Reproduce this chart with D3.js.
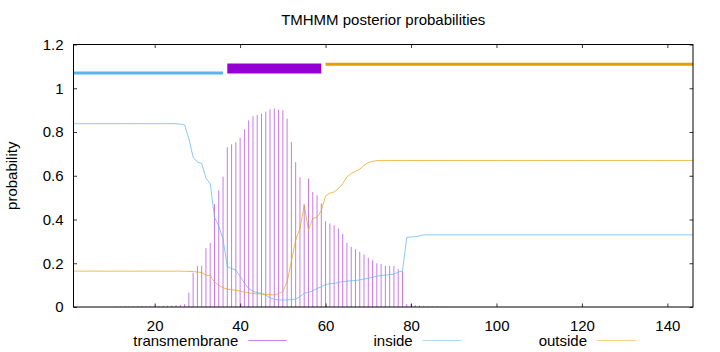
<!DOCTYPE html>
<html>
<head>
<meta charset="utf-8">
<script src="https://cdn.jsdelivr.net/npm/d3@7"></script>
<style>
  body { margin: 0; background: #fff; }
  svg { display: block; font-family: 'Liberation Sans', Arial, sans-serif; }
</style>
</head>
<body>
<div id="graph"></div>
<script>
// posterior probabilities per residue (1..146)
const tmProb = [
  0, 0, 0, 0, 0, 0, 0, 0, 0, 0,
  0.002, 0.002, 0.003, 0.003, 0.003, 0.004, 0.004, 0.004, 0.005, 0.005,
  0.005, 0.006, 0.006, 0.007, 0.008, 0.01, 0.013, 0.065, 0.156, 0.187,
  0.188, 0.269, 0.293, 0.47, 0.534, 0.596, 0.731, 0.744, 0.753, 0.774,
  0.812, 0.853, 0.872, 0.878, 0.884, 0.893, 0.904, 0.908, 0.902, 0.899,
  0.861, 0.754, 0.662, 0.593, 0.47, 0.587, 0.526, 0.511, 0.474, 0.392,
  0.382, 0.374, 0.359, 0.333, 0.293, 0.275, 0.264, 0.252, 0.24, 0.225,
  0.213, 0.2, 0.196, 0.188, 0.188, 0.188, 0.173, 0.164, 0.013, 0.014,
  0.009, 0.007, 0.004, 0.003, 0.002, 0.002, 0.001, 0.001, 0.001, 0,
  0, 0, 0, 0, 0, 0, 0, 0, 0, 0,
  0, 0, 0, 0, 0, 0, 0, 0, 0, 0,
  0, 0, 0, 0, 0, 0, 0, 0, 0, 0,
  0, 0, 0, 0, 0, 0, 0, 0, 0, 0,
  0, 0, 0, 0, 0, 0, 0, 0, 0, 0,
  0, 0, 0, 0, 0, 0,
]

const insideProb = [
  0.838, 0.838, 0.838, 0.838, 0.838, 0.838, 0.838, 0.838, 0.838, 0.838,
  0.838, 0.838, 0.838, 0.838, 0.838, 0.838, 0.838, 0.838, 0.838, 0.838,
  0.838, 0.838, 0.838, 0.838, 0.838, 0.836, 0.832, 0.77, 0.685, 0.663,
  0.656, 0.59, 0.564, 0.41, 0.37, 0.31, 0.184, 0.176, 0.169, 0.14,
  0.11, 0.085, 0.072, 0.066, 0.062, 0.054, 0.042, 0.035, 0.033, 0.032,
  0.032, 0.034, 0.036, 0.047, 0.063, 0.067, 0.074, 0.085, 0.092, 0.103,
  0.106, 0.108, 0.112, 0.116, 0.118, 0.12, 0.121, 0.124, 0.128, 0.131,
  0.136, 0.141, 0.144, 0.146, 0.148, 0.15, 0.16, 0.165, 0.318, 0.32,
  0.322, 0.325, 0.33, 0.33, 0.33, 0.33, 0.33, 0.33, 0.33, 0.33,
  0.33, 0.33, 0.33, 0.33, 0.33, 0.33, 0.33, 0.33, 0.33, 0.33,
  0.33, 0.33, 0.33, 0.33, 0.33, 0.33, 0.33, 0.33, 0.33, 0.33,
  0.33, 0.33, 0.33, 0.33, 0.33, 0.33, 0.33, 0.33, 0.33, 0.33,
  0.33, 0.33, 0.33, 0.33, 0.33, 0.33, 0.33, 0.33, 0.33, 0.33,
  0.33, 0.33, 0.33, 0.33, 0.33, 0.33, 0.33, 0.33, 0.33, 0.33,
  0.33, 0.33, 0.33, 0.33, 0.33, 0.33,
]

const outsideProb = [
  0.164, 0.164, 0.164, 0.164, 0.164, 0.164, 0.164, 0.164, 0.164, 0.164,
  0.164, 0.164, 0.164, 0.164, 0.164, 0.164, 0.164, 0.164, 0.164, 0.164,
  0.164, 0.164, 0.164, 0.164, 0.164, 0.164, 0.163, 0.163, 0.162, 0.16,
  0.158, 0.146, 0.143, 0.115, 0.1, 0.088, 0.082, 0.079, 0.076, 0.073,
  0.068, 0.065, 0.062, 0.06, 0.06, 0.058, 0.057, 0.055, 0.062, 0.07,
  0.115, 0.21, 0.305, 0.359, 0.465, 0.351, 0.405, 0.41, 0.44, 0.508,
  0.52, 0.526, 0.541, 0.564, 0.595, 0.61, 0.62, 0.63, 0.648, 0.66,
  0.666, 0.669, 0.67, 0.67, 0.67, 0.67, 0.67, 0.67, 0.67, 0.67,
  0.67, 0.67, 0.67, 0.67, 0.67, 0.67, 0.67, 0.67, 0.67, 0.67,
  0.67, 0.67, 0.67, 0.67, 0.67, 0.67, 0.67, 0.67, 0.67, 0.67,
  0.67, 0.67, 0.67, 0.67, 0.67, 0.67, 0.67, 0.67, 0.67, 0.67,
  0.67, 0.67, 0.67, 0.67, 0.67, 0.67, 0.67, 0.67, 0.67, 0.67,
  0.67, 0.67, 0.67, 0.67, 0.67, 0.67, 0.67, 0.67, 0.67, 0.67,
  0.67, 0.67, 0.67, 0.67, 0.67, 0.67, 0.67, 0.67, 0.67, 0.67,
  0.67, 0.67, 0.67, 0.67, 0.67, 0.67,
]

// predicted topology segments drawn above the curves
const segNames = ['inside', 'transmembrane', 'outside']
const segStart = [1, 37, 60]
const segEnd = [36, 59, 146]
const segLevel = [1.07, 1.09, 1.11]

const xTicks = [20, 40, 60, 80, 100, 120, 140]
const yTicks = [0, 0.2, 0.4, 0.6, 0.8, 1, 1.2]
const yTickLabels = ['0', '0.2', '0.4', '0.6', '0.8', '1', '1.2']
const seqLength = 146

const colors = {
  transmembrane: '#9400d3',
  inside: '#56b4e9',
  outside: '#e69f00',
}

const width = 720,
  height = 352
const plot = { left: 73.5, right: 693, top: 44.5, bottom: 307 }
const thin = 0.7 // gnuplot's hairline look

const residues = tmProb.map((d, i) => i + 1)

const svg = d3
  .select('#graph')
  .append('svg')
  .attr('width', width)
  .attr('height', height)

const x = d3
  .scaleLinear()
  .domain([1, seqLength])
  .range([plot.left, plot.right])
const y = d3.scaleLinear().domain([0, 1.2]).range([plot.bottom, plot.top])

svg
  .append('defs')
  .append('clipPath')
  .attr('id', 'clip')
  .append('rect')
  .attr('x', plot.left)
  .attr('y', plot.top)
  .attr('width', plot.right - plot.left)
  .attr('height', plot.bottom - plot.top)

// axes with inward ticks (gnuplot style), mirrored on top and right
const tickLen = 3.5
const axisStyle = (g) => {
  g.select('.domain').remove()
  g.selectAll('.tick line').attr('stroke', '#000').attr('stroke-width', 0.8)
  g.selectAll('text')
    .attr('font-size', 15)
    .attr('font-family', "'Liberation Sans', Arial, sans-serif")
    .attr('fill', '#000')
}

svg
  .append('g')
  .attr('transform', `translate(0,${plot.bottom})`)
  .call(d3.axisBottom(x).tickValues(xTicks).tickSize(-tickLen).tickPadding(13))
  .call(axisStyle)

svg
  .append('g')
  .attr('transform', `translate(0,${plot.top})`)
  .call(d3.axisTop(x).tickValues(xTicks).tickSize(-tickLen).tickFormat(''))
  .call(axisStyle)

svg
  .append('g')
  .attr('transform', `translate(${plot.left},0)`)
  .call(
    d3
      .axisLeft(y)
      .tickValues(yTicks)
      .tickFormat((d, i) => yTickLabels[i])
      .tickSize(-tickLen)
      .tickPadding(10)
  )
  .call(axisStyle)

svg
  .append('g')
  .attr('transform', `translate(${plot.right},0)`)
  .call(d3.axisRight(y).tickValues(yTicks).tickSize(-tickLen).tickFormat(''))
  .call(axisStyle)

const inner = svg.append('g').attr('clip-path', 'url(#clip)')

// transmembrane probability as impulses
inner
  .selectAll('line.tm')
  .data(residues.filter((r, i) => tmProb[i] > 0))
  .join('line')
  .attr('class', 'tm')
  .attr('x1', (r) => x(r))
  .attr('x2', (r) => x(r))
  .attr('y1', y(0))
  .attr('y2', (r) => y(tmProb[r - 1]))
  .attr('stroke', colors.transmembrane)
  .attr('stroke-opacity', 0.75)
  .attr('stroke-width', thin)

const line = (values) =>
  d3
    .line()
    .x((r) => x(r))
    .y((r) => y(values[r - 1]))(residues)

inner
  .append('path')
  .attr('d', line(insideProb))
  .attr('fill', 'none')
  .attr('stroke', colors.inside)
  .attr('stroke-width', thin)

inner
  .append('path')
  .attr('d', line(outsideProb))
  .attr('fill', 'none')
  .attr('stroke', colors.outside)
  .attr('stroke-width', thin)

// topology bars
segNames.forEach((name, i) => {
  inner
    .append('line')
    .attr('x1', x(segStart[i]))
    .attr('x2', x(segEnd[i]))
    .attr('y1', y(segLevel[i]))
    .attr('y2', y(segLevel[i]))
    .attr('stroke', colors[name])
    .attr('stroke-width', name === 'transmembrane' ? 10 : 3)
})

// border
svg
  .append('rect')
  .attr('x', plot.left)
  .attr('y', plot.top)
  .attr('width', plot.right - plot.left)
  .attr('height', plot.bottom - plot.top)
  .attr('fill', 'none')
  .attr('stroke', '#000')
  .attr('stroke-width', 1)

svg
  .append('text')
  .attr('x', (plot.left + plot.right) / 2)
  .attr('y', 25)
  .attr('text-anchor', 'middle')
  .attr('font-size', 15)
  .text('TMHMM posterior probabilities')

svg
  .append('text')
  .attr('transform', `translate(17,${(plot.top + plot.bottom) / 2}) rotate(-90)`)
  .attr('text-anchor', 'middle')
  .attr('font-size', 15)
  .text('probability')

// key along the bottom
const keyNames = ['transmembrane', 'inside', 'outside']
const keyTextRight = [238.3, 412.7, 587]
keyNames.forEach((name, i) => {
  svg
    .append('text')
    .attr('x', keyTextRight[i])
    .attr('y', 346)
    .attr('text-anchor', 'end')
    .attr('font-size', 15)
    .text(name)
  svg
    .append('line')
    .attr('x1', keyTextRight[i] + 10)
    .attr('x2', keyTextRight[i] + 48.5)
    .attr('y1', 340.5)
    .attr('y2', 340.5)
    .attr('stroke', colors[name])
    .attr('stroke-opacity', 0.7)
    .attr('stroke-width', thin)
})
</script>
</body>
</html>
